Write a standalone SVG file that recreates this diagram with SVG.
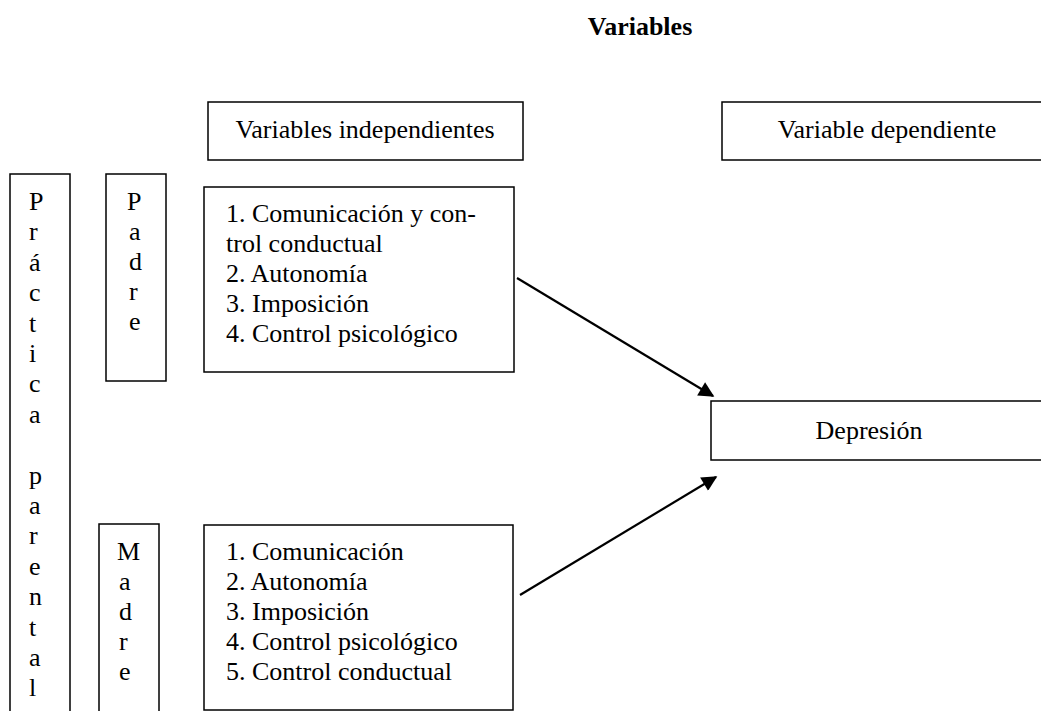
<svg xmlns="http://www.w3.org/2000/svg" width="1041" height="711" viewBox="0 0 1041 711">
<defs>
<style>
.box{fill:#fff;stroke:#000;stroke-width:1.5}
text{font-family:'Liberation Serif','Times New Roman','DejaVu Serif',serif;font-size:26px;fill:#000}
.c{text-anchor:middle}
.title{font-weight:bold}
.conn{stroke:#000;stroke-width:2.2;fill:none;marker-end:url(#ah)}
</style>
<marker id="ah" viewBox="0 0 10 10" refX="9" refY="5" markerWidth="8" markerHeight="7" markerUnits="strokeWidth" orient="auto">
<path d="M0,0 L10,5 L0,10 z" fill="#000"/>
</marker>
</defs>
<rect width="1041" height="711" fill="#fff"/>
<text class="c title" x="640" y="35" font-family="Liberation Serif, serif">Variables</text>

<g id="var-indep">
<rect class="box" x="208" y="102" width="315" height="58"/>
<text class="c" x="365" y="138" font-family="Liberation Serif, serif">Variables independientes</text>
</g>
<g id="var-dep">
<rect class="box" x="722" y="102" width="330" height="58"/>
<text class="c" x="887" y="138" font-family="Liberation Serif, serif">Variable dependiente</text>
</g>

<g id="practica">
<rect class="box" x="10" y="174" width="60" height="545"/>
<text font-family="Liberation Serif, serif">
<tspan x="29" y="210">P</tspan>
<tspan x="29" y="240.4">r</tspan>
<tspan x="29" y="270.8">á</tspan>
<tspan x="29" y="301.2">c</tspan>
<tspan x="29" y="331.6">t</tspan>
<tspan x="29" y="362">i</tspan>
<tspan x="29" y="392.4">c</tspan>
<tspan x="29" y="422.8">a</tspan>
<tspan x="29" y="483.6">p</tspan>
<tspan x="29" y="514">a</tspan>
<tspan x="29" y="544.4">r</tspan>
<tspan x="29" y="574.8">e</tspan>
<tspan x="29" y="605.2">n</tspan>
<tspan x="29" y="635.6">t</tspan>
<tspan x="29" y="666">a</tspan>
<tspan x="29" y="696.4">l</tspan>
</text>
</g>

<g id="padre">
<rect class="box" x="106" y="174" width="60" height="207"/>
<text font-family="Liberation Serif, serif">
<tspan x="127" y="210">P</tspan>
<tspan x="129" y="240">a</tspan>
<tspan x="129" y="270">d</tspan>
<tspan x="129" y="300">r</tspan>
<tspan x="129" y="330">e</tspan>
</text>
</g>

<g id="padre-list">
<rect class="box" x="204" y="187" width="310" height="185"/>
<text font-family="Liberation Serif, serif">
<tspan x="226" y="222">1. Comunicación y con-</tspan>
<tspan x="226" y="252">trol conductual</tspan>
<tspan x="226" y="282">2. Autonomía</tspan>
<tspan x="226" y="312">3. Imposición</tspan>
<tspan x="226" y="342">4. Control psicológico</tspan>
</text>
</g>

<g id="madre">
<rect class="box" x="99" y="524" width="60" height="200"/>
<text font-family="Liberation Serif, serif">
<tspan x="117" y="560">M</tspan>
<tspan x="119" y="590">a</tspan>
<tspan x="119" y="620">d</tspan>
<tspan x="119" y="650">r</tspan>
<tspan x="119" y="680">e</tspan>
</text>
</g>

<g id="madre-list">
<rect class="box" x="204" y="525" width="309" height="185"/>
<text font-family="Liberation Serif, serif">
<tspan x="226" y="560">1. Comunicación</tspan>
<tspan x="226" y="590">2. Autonomía</tspan>
<tspan x="226" y="620">3. Imposición</tspan>
<tspan x="226" y="650">4. Control psicológico</tspan>
<tspan x="226" y="680">5. Control conductual</tspan>
</text>
</g>

<g id="depresion">
<rect class="box" x="711" y="401" width="340" height="59"/>
<text class="c" x="869" y="439" font-family="Liberation Serif, serif">Depresión</text>
</g>

<g id="connectors">
<line class="conn" x1="517" y1="278" x2="713" y2="396"/>
<line class="conn" x1="520" y1="595" x2="716" y2="477"/>
</g>
</svg>
